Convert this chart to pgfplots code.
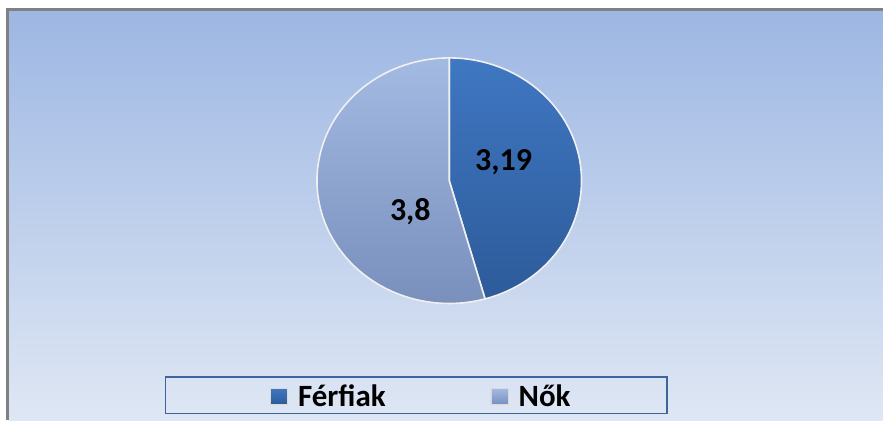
\documentclass[border=0pt]{standalone}
\usepackage{pgfplots}
\pgfplotsset{compat=1.18}
\usepackage{fontspec}
\setmainfont{Carlito}
\definecolor{bgtop}{HTML}{9DB7E3}
\definecolor{bgbot}{HTML}{DFE7F4}
\definecolor{ftop}{HTML}{3F77C2}
\definecolor{fbot}{HTML}{2D5B9A}
\definecolor{ntop}{HTML}{A3BAE3}
\definecolor{nbot}{HTML}{798FBC}
\definecolor{legbox}{HTML}{3E6599}
\definecolor{framegray}{HTML}{808080}
\pgfmathsetmacro{\vF}{3.19}
\pgfmathsetmacro{\vN}{3.8}
\pgfmathsetmacro{\angA}{90-360*\vF/(\vF+\vN)}
\begin{document}
\begin{tikzpicture}
\begin{axis}[
  width=884pt, height=421pt, scale only axis,
  xmin=0, xmax=884, ymin=0, ymax=421, y dir=reverse,
  hide axis, clip=false,
  legend columns=2,
  legend style={at={(axis cs:421,397)}, anchor=center, draw=none, fill=none,
    font=\bfseries\fontsize{31}{33}\selectfont, inner sep=0pt,
    nodes={inner sep=0pt},
    /tikz/every even column/.append style={column sep=105pt}},
  legend cell align=left,
  legend image code/.code={\path[#1, draw=white!70!gray, line width=0.6pt] (0pt,-8pt) rectangle (17pt,8pt); \path (27pt,0pt);},
]
% background
\fill[fill=white] (axis cs:0,0) rectangle (axis cs:884,421);
\fill[top color=bgtop, bottom color=bgbot, shading angle=0] (axis cs:9,11) rectangle (axis cs:884,421);
\draw[framegray, line width=3pt] (axis cs:7.5,421) -- (axis cs:7.5,9.5) -- (axis cs:884,9.5);
% pie slices from data
\addplot[draw=white!88!gray, line width=1.6pt, top color=ftop, bottom color=fbot,
  domain=90:\angA, samples=120]
  ({450+132.5*cos(x)},{181-123*sin(x)}) -- (axis cs:450,181) -- cycle;
\addlegendentry{Férfiak}
\addplot[draw=white!88!gray, line width=1.6pt, top color=ntop, bottom color=nbot,
  domain=\angA:-270, samples=120]
  ({450+132.5*cos(x)},{181-123*sin(x)}) -- (axis cs:450,181) -- cycle;
\addlegendentry{Nők}
% labels
\node[font=\bfseries\fontsize{32}{34}\selectfont] at (axis cs:504.5,162) {3,19};
\node[font=\bfseries\fontsize{32}{34}\selectfont] at (axis cs:411,212) {3,8};
% legend box
\draw[legbox, line width=1.3pt] (axis cs:166,377.5) rectangle (axis cs:668,414);
\end{axis}
\end{tikzpicture}
\end{document}
